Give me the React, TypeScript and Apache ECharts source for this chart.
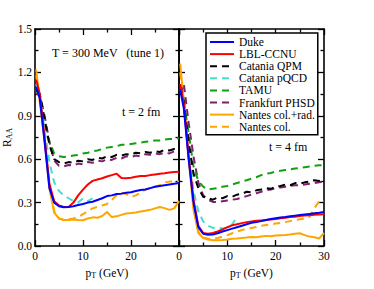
import React, { useEffect, useRef } from "react";
import * as echarts from "echarts";

// pT grid (GeV)
const pT = [0.25, 1, 2, 3, 4, 5, 6, 7, 8, 9, 10, 11, 12, 13, 14, 15, 16, 17, 18, 19, 20, 21, 22, 23, 24, 25, 26, 27, 28, 29, 30];
const pTshort = [0.25, 1, 2, 3, 4, 5, 6, 7, 8, 9, 10, 11, 12];

const seriesNames = ["Duke", "LBL-CCNU", "Catania QPM", "Catania pQCD", "TAMU", "Frankfurt PHSD", "Nantes col.+rad.", "Nantes col."];
const seriesColors = ["#0000ff", "#ff0000", "#000000", "#40e0d0", "#12a012", "#7f1f6f", "#ffa500", "#ffa500"];
const seriesDashed = [false, false, true, true, true, true, false, true];

// t = 2 fm (left panel)
const duke2 = [1.10, 1.02, 0.72, 0.40, 0.30, 0.275, 0.268, 0.27, 0.275, 0.283, 0.29, 0.30, 0.306, 0.318, 0.33, 0.345, 0.35, 0.36, 0.362, 0.368, 0.372, 0.38, 0.387, 0.39, 0.40, 0.41, 0.415, 0.42, 0.425, 0.43, 0.435];
const lbl2 = [1.15, 1.05, 0.75, 0.43, 0.31, 0.28, 0.27, 0.27, 0.30, 0.35, 0.39, 0.425, 0.45, 0.46, 0.468, 0.48, 0.49, 0.50, 0.47, 0.468, 0.472, 0.478, 0.484, 0.484, 0.49, 0.495, 0.50, 0.503, 0.508, 0.512, 0.514];
const qpm2 = [1.08, 1.05, 0.88, 0.70, 0.60, 0.58, 0.57, 0.58, 0.575, 0.59, 0.585, 0.60, 0.595, 0.61, 0.605, 0.62, 0.615, 0.63, 0.625, 0.635, 0.63, 0.645, 0.64, 0.65, 0.645, 0.655, 0.65, 0.665, 0.66, 0.67, 0.668];
const pqcd2 = [1.12, 1.05, 0.80, 0.58, 0.44, 0.38, 0.35, 0.33, 0.31, 0.30, 0.33, 0.31, 0.33];
const tamu2 = [1.08, 1.02, 0.85, 0.72, 0.64, 0.62, 0.615, 0.62, 0.625, 0.63, 0.64, 0.645, 0.655, 0.66, 0.67, 0.68, 0.685, 0.69, 0.70, 0.70, 0.705, 0.71, 0.715, 0.72, 0.725, 0.73, 0.73, 0.735, 0.74, 0.74, 0.745];
const phsd2 = [1.05, 1.05, 0.90, 0.72, 0.59, 0.555, 0.55, 0.56, 0.555, 0.57, 0.565, 0.58, 0.575, 0.59, 0.585, 0.60, 0.595, 0.61, 0.605, 0.62, 0.615, 0.625, 0.62, 0.635, 0.63, 0.64, 0.635, 0.645, 0.64, 0.655, 0.65];
const nantesRad2 = [1.22, 1.0, 0.73, 0.40, 0.23, 0.19, 0.18, 0.18, 0.183, 0.18, 0.178, 0.19, 0.198, 0.195, 0.207, 0.235, 0.20, 0.205, 0.215, 0.225, 0.228, 0.232, 0.238, 0.244, 0.25, 0.26, 0.27, 0.262, 0.25, 0.26, 0.31];
const nantesCol2 = [1.18, 1.0, 0.73, 0.42, 0.24, 0.19, 0.18, 0.185, 0.19, 0.20, 0.22, 0.24, 0.26, 0.27, 0.28, 0.29, 0.32, 0.35, 0.368, 0.36, 0.34, 0.35, 0.37, 0.39, 0.40, 0.41, 0.42, 0.44, 0.445, 0.445, 0.445];

// t = 4 fm (right panel)
const duke4 = [1.08, 0.95, 0.60, 0.30, 0.13, 0.085, 0.078, 0.08, 0.088, 0.10, 0.11, 0.12, 0.13, 0.14, 0.15, 0.16, 0.165, 0.172, 0.18, 0.186, 0.192, 0.197, 0.20, 0.205, 0.21, 0.214, 0.218, 0.222, 0.226, 0.23, 0.235];
const lbl4 = [1.12, 0.98, 0.62, 0.32, 0.14, 0.09, 0.085, 0.09, 0.10, 0.115, 0.13, 0.143, 0.15, 0.158, 0.165, 0.17, 0.174, 0.177, 0.18, 0.183, 0.187, 0.192, 0.196, 0.20, 0.203, 0.207, 0.21, 0.213, 0.216, 0.218, 0.22];
const qpm4 = [1.10, 1.0, 0.72, 0.50, 0.40, 0.34, 0.33, 0.32, 0.335, 0.33, 0.345, 0.34, 0.355, 0.36, 0.375, 0.37, 0.385, 0.39, 0.40, 0.395, 0.41, 0.415, 0.425, 0.42, 0.435, 0.43, 0.44, 0.445, 0.455, 0.45, 0.46];
const pqcd4 = [1.10, 1.0, 0.70, 0.38, 0.24, 0.17, 0.14, 0.125, 0.13, 0.12, 0.125, 0.15, 0.20];
const tamu4 = [1.08, 1.0, 0.78, 0.55, 0.45, 0.41, 0.39, 0.395, 0.40, 0.41, 0.415, 0.425, 0.435, 0.445, 0.455, 0.465, 0.475, 0.49, 0.50, 0.505, 0.515, 0.52, 0.525, 0.53, 0.535, 0.54, 0.545, 0.55, 0.555, 0.558, 0.56];
const phsd4 = [1.05, 1.12, 0.85, 0.62, 0.44, 0.35, 0.32, 0.305, 0.305, 0.31, 0.315, 0.32, 0.325, 0.335, 0.345, 0.355, 0.365, 0.375, 0.385, 0.39, 0.40, 0.405, 0.41, 0.415, 0.42, 0.42, 0.425, 0.43, 0.435, 0.44, 0.445];
const nantesRad4 = [1.26, 1.0, 0.60, 0.25, 0.09, 0.055, 0.045, 0.04, 0.04, 0.042, 0.045, 0.05, 0.052, 0.055, 0.058, 0.062, 0.06, 0.065, 0.07, 0.068, 0.072, 0.075, 0.076, 0.08, 0.085, 0.088, 0.075, 0.065, 0.06, 0.052, 0.09];
const nantesCol4 = [1.20, 1.0, 0.62, 0.28, 0.10, 0.06, 0.05, 0.05, 0.055, 0.065, 0.075, 0.088, 0.10, 0.11, 0.118, 0.125, 0.132, 0.14, 0.145, 0.15, 0.155, 0.16, 0.165, 0.172, 0.178, 0.185, 0.19, 0.20, 0.26, 0.31, 0.31];

const panel2 = [duke2, lbl2, qpm2, pqcd2, tamu2, phsd2, nantesRad2, nantesCol2];
const panel4 = [duke4, lbl4, qpm4, pqcd4, tamu4, phsd4, nantesRad4, nantesCol4];

const xTicks = { min: 0, max: 30, interval: 10 };
const yTicks = { min: 0, max: 1.5, interval: 0.3 };

const FONT = "Liberation Serif";

function App() {
  const ref = useRef<HTMLDivElement>(null);
  useEffect(() => {
    if (!ref.current) return;
    const chart = echarts.init(ref.current, undefined, { renderer: "svg" });

    const axisLine = { show: true, onZero: false, lineStyle: { color: "#000", width: 1.6 } };
    const tick = { show: true, inside: true, length: 6, lineStyle: { color: "#000", width: 1.3 } };
    const minor = { show: true, splitNumber: 2, length: 3.5, lineStyle: { color: "#000", width: 1.3 } };
    const label = { fontFamily: FONT, fontSize: 11.5, color: "#000" };
    const rich = { sub: { fontFamily: FONT, fontSize: 8, color: "#000", verticalAlign: "bottom", padding: [5, 0, 0, 0] } };

    const xAxis = [0, 1].flatMap((g) => [
      {
        type: "value", gridIndex: g, position: "bottom", ...xTicks,
        axisLine, axisTick: tick, minorTick: minor, splitLine: { show: false },
        axisLabel: {
          ...label, margin: 4,
          formatter: (v: number) => (g === 0 && v === 30 ? "" : String(v)),
        },
        name: "p{sub|T} (GeV)", nameLocation: "middle", nameGap: 14,
        nameTextStyle: { fontFamily: FONT, fontSize: 11.5, color: "#000", rich },
      },
      {
        type: "value", gridIndex: g, position: "top", ...xTicks,
        axisLine, axisTick: tick, minorTick: minor, splitLine: { show: false },
        axisLabel: { show: false },
      },
    ]);
    const yAxis = [0, 1].flatMap((g) => [
      {
        type: "value", gridIndex: g, position: "left", ...yTicks,
        axisLine, axisTick: tick, minorTick: minor, splitLine: { show: false },
        axisLabel: g === 0 ? { ...label, margin: 3, formatter: (v: number) => v.toFixed(1) } : { show: false },
        ...(g === 0
          ? {
              name: "R{sub|AA}", nameLocation: "middle", nameGap: 21,
              nameTextStyle: { fontFamily: FONT, fontSize: 11.5, color: "#000", rich },
            }
          : {}),
      },
      {
        type: "value", gridIndex: g, position: "right", ...yTicks,
        axisLine, axisTick: tick, minorTick: minor, splitLine: { show: false },
        axisLabel: { show: false },
      },
    ]);

    const series: any[] = [];
    [panel2, panel4].forEach((panel, g) => {
      panel.forEach((vals, i) => {
        const xs = vals.length === pT.length ? pT : pTshort;
        series.push({
          type: "line",
          name: seriesNames[i],
          xAxisIndex: g * 2,
          yAxisIndex: g * 2,
          data: vals.map((v, k) => [xs[k], v]),
          symbol: "none",
          color: seriesColors[i],
          lineStyle: { color: seriesColors[i], width: 2, type: seriesDashed[i] ? [7, 5] : "solid" },
          z: 10 - i,
        });
      });
    });

    chart.setOption({
      animation: false,
      grid: [
        { left: 35, top: 29, width: 144, height: 217 },
        { left: 179, top: 29, width: 145, height: 217 },
      ],
      xAxis,
      yAxis,
      legend: {
        data: seriesNames,
        orient: "vertical",
        left: 206,
        top: 33,
        padding: [3, 3, 2, 3],
        itemWidth: 24,
        itemHeight: 11,
        itemGap: 0.1,
        borderColor: "#000",
        borderWidth: 1.5,
        backgroundColor: "#fff",
        itemStyle: { opacity: 0, borderWidth: 0 },
        textStyle: { fontFamily: FONT, fontSize: 11.5, color: "#000", lineHeight: 11 },
      },
      graphic: [
        { type: "text", x: 52, y: 53, style: { text: "T = 300 MeV   (tune 1)", fontFamily: FONT, fontSize: 12, fill: "#000", verticalAlign: "middle" } },
        { type: "text", x: 122, y: 112, style: { text: "t = 2 fm", fontFamily: FONT, fontSize: 12, fill: "#000", verticalAlign: "middle" } },
        { type: "text", x: 269, y: 147, style: { text: "t = 4 fm", fontFamily: FONT, fontSize: 12, fill: "#000", verticalAlign: "middle" } },
      ],
      series,
    });
    return () => chart.dispose();
  }, []);
  return <div ref={ref} style={{ width: 374, height: 289, position: "absolute", left: 0, top: 0 }} />;
}

export default App;
